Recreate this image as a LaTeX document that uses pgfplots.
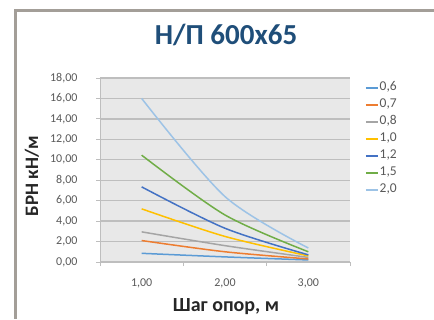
\documentclass[border=0pt]{standalone}
\usepackage{fontspec}
\setmainfont{Carlito}
\usepackage{pgfplots}
\pgfplotsset{compat=1.18}
\definecolor{cA}{HTML}{5B9BD5}
\definecolor{cB}{HTML}{ED7D31}
\definecolor{cC}{HTML}{A5A5A5}
\definecolor{cD}{HTML}{FFC000}
\definecolor{cE}{HTML}{4472C4}
\definecolor{cF}{HTML}{70AD47}
\definecolor{cG}{HTML}{9DC3E6}
\definecolor{bgc}{HTML}{E8E8E8}
\definecolor{gridc}{HTML}{BEBEBE}
\definecolor{framec}{HTML}{A39E98}
\definecolor{titlec}{HTML}{1F4E79}
\definecolor{tickc}{HTML}{595959}
\begin{document}
\begin{tikzpicture}[x=1bp,y=1bp]
\useasboundingbox (0,0) rectangle (434,319);
\fill[framec] (13.5,0) rectangle (16.5,309.5);
\fill[framec] (13.5,306.5) rectangle (434,309.5);
\begin{axis}[
  at={(100bp,57bp)}, anchor=south west,
  scale only axis, width=250bp, height=184bp,
  xmin=0.5, xmax=3.5, ymin=0, ymax=18,
  axis background/.style={fill=bgc},
  axis line style={gridc},
  axis x line*=bottom, axis y line*=left,
  xtick={1,2,3}, xticklabels={{1,00},{2,00},{3,00}},
  major x tick style={draw=none},
  minor xtick={0.5,1.5,2.5,3.5},
  minor tick length=4bp,
  minor x tick style={gridc, line width=0.8bp},
  ytick={0,2,...,18},
  major tick length=4bp,
  tick align=outside,
  y tick style={gridc, line width=0.8bp},
  ymajorgrids, grid style={gridc, line width=1.3bp},
  /pgf/number format/assume math mode=true,
  yticklabel={\pgfmathprintnumber[fixed,fixed zerofill,precision=2,use comma]{\tick}},
  ticklabel style={font=\fontsize{12bp}{14bp}\selectfont, text=tickc},
  yticklabel style={xshift=-15bp},
  xticklabel style={yshift=-9bp},
  legend style={at={(1.06,0.985)}, anchor=north west, draw=none, fill=none,
    inner sep=0pt, row sep=3bp,
    font=\fontsize{13.5bp}{15bp}\selectfont,
    nodes={text height=9bp, text depth=3bp, inner sep=1bp, text=tickc}},
  legend cell align=left,
  legend image code/.code={\draw[#1, line width=1.5bp] (0bp,0bp) -- (12bp,0bp);},
  every axis plot/.append style={line width=1.5bp, smooth, no markers},
  clip=false,
]
\addplot[cA] coordinates {(1,0.85) (2,0.5) (3,0.2)};
\addplot[cB] coordinates {(1,2.1) (2,1.0) (3,0.3)};
\addplot[cC] coordinates {(1,2.95) (2,1.6) (3,0.45)};
\addplot[cD] coordinates {(1,5.2) (2,2.5) (3,0.6)};
\addplot[cE] coordinates {(1,7.35) (2,3.3) (3,0.7)};
\addplot[cF] coordinates {(1,10.45) (2,4.6) (3,1.0)};
\addplot[cG] coordinates {(1,16.0) (2,6.4) (3,1.37)};
\legend{{0,6},{0,7},{0,8},{1,0},{1,2},{1,5},{2,0}}
\end{axis}
\node[font=\bfseries\fontsize{29bp}{32bp}\selectfont, text=titlec] at (226,284) {Н/П 600x65};
\node[font=\bfseries\fontsize{19bp}{22bp}\selectfont, text=black!85, rotate=90] at (32,143) {БРН кН/м};
\node[font=\bfseries\fontsize{20bp}{24bp}\selectfont, text=black!85] at (226,12) {Шаг опор, м};
\end{tikzpicture}
\end{document}
